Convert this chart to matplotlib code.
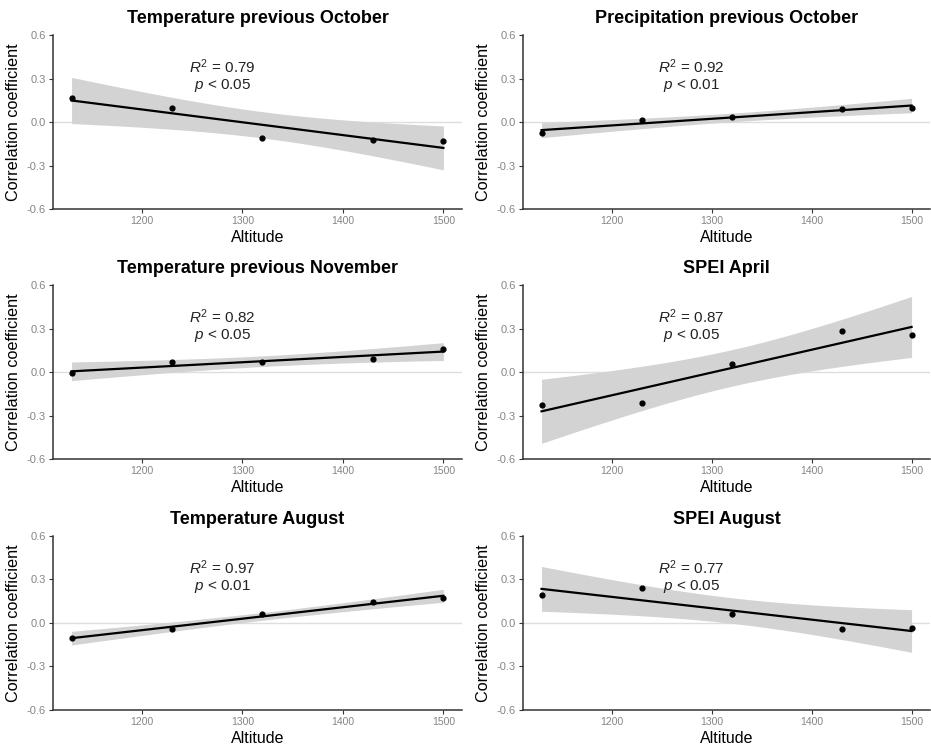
import matplotlib

matplotlib.use("Agg")
import matplotlib.pyplot as plt
import numpy as np

plt.rcParams["font.family"] = ["Liberation Sans", "DejaVu Sans"]
plt.rcParams["mathtext.fontset"] = "custom"
plt.rcParams["mathtext.rm"] = "Liberation Sans"
plt.rcParams["mathtext.it"] = "Liberation Sans:italic"

# site altitudes (m) shared by all panels
altitude = [1130, 1230, 1320, 1430, 1500]

titles = [
    "Temperature previous October",
    "Precipitation previous October",
    "Temperature previous November",
    "SPEI April",
    "Temperature August",
    "SPEI August",
]

# correlation coefficients per site
temp_prev_oct = [0.166, 0.100, -0.110, -0.127, -0.134]
prec_prev_oct = [-0.076, 0.012, 0.037, 0.092, 0.097]
temp_prev_nov = [-0.007, 0.069, 0.069, 0.088, 0.159]
spei_apr = [-0.226, -0.217, 0.058, 0.284, 0.256]
temp_aug = [-0.104, -0.042, 0.062, 0.148, 0.171]
spei_aug = [0.194, 0.240, 0.062, -0.042, -0.032]

r2_labels = ["0.79", "0.92", "0.82", "0.87", "0.97", "0.77"]
p_labels = ["0.05", "0.01", "0.05", "0.05", "0.01", "0.05"]

series = [temp_prev_oct, prec_prev_oct, temp_prev_nov, spei_apr, temp_aug, spei_aug]

T_CRIT = 3.182446  # two-sided 95 %, df = 3


def lm_band(x, y, xs):
    """Least-squares fit with a 95 % confidence band, like geom_smooth(method='lm')."""
    x = np.asarray(x, float)
    y = np.asarray(y, float)
    slope, intercept = np.polyfit(x, y, 1)
    resid = y - (slope * x + intercept)
    s = np.sqrt(np.sum(resid ** 2) / (len(x) - 2))
    sxx = np.sum((x - x.mean()) ** 2)
    fit = slope * xs + intercept
    half = T_CRIT * s * np.sqrt(1 / len(x) + (xs - x.mean()) ** 2 / sxx)
    return fit, fit - half, fit + half


fig = plt.figure(figsize=(9.31, 7.46), dpi=100)

col_left = [0.0569, 0.5618]
col_width = [0.4393, 0.4372]
row_bottom = [0.7198, 0.3847, 0.0483]
row_height = 0.2332

tick_color = "#858585"
spine_color = "#333333"

for i, (title, y) in enumerate(zip(titles, series)):
    row, col = divmod(i, 2)
    ax = fig.add_axes([col_left[col], row_bottom[row], col_width[col], row_height])

    xs = np.linspace(min(altitude), max(altitude), 100)
    fit, lo, hi = lm_band(altitude, y, xs)

    ax.axhline(0, color="#dedede", linewidth=1.0, zorder=0)
    ax.fill_between(xs, lo, hi, color="#d3d3d3", linewidth=0, zorder=1)
    ax.scatter(altitude, y, s=12, color="black", zorder=3)
    ax.plot(xs, fit, color="black", linewidth=1.6, zorder=4)

    ax.text(1280, 0.38, r"$R^2$ = " + r2_labels[i], ha="center", va="center", fontsize=11, color="#222222")
    ax.text(1280, 0.25, r"$p$ < " + p_labels[i], ha="center", va="center", fontsize=11, color="#222222")

    ax.set_xlim(1111.5, 1518.5)
    ax.set_ylim(-0.6, 0.6)
    ax.set_xticks([1200, 1300, 1400, 1500])
    ax.set_yticks([-0.6, -0.3, 0.0, 0.3, 0.6])
    ax.set_yticklabels(["-0.6", "-0.3", "0.0", "0.3", "0.6"])

    ax.set_title(title, fontsize=13, fontweight="bold", pad=9)
    ax.set_xlabel("Altitude", fontsize=11.5, labelpad=3)
    ax.set_ylabel("Correlation coefficient", fontsize=11.7, labelpad=4)

    for side in ["top", "right"]:
        ax.spines[side].set_visible(False)
    for side in ["left", "bottom"]:
        ax.spines[side].set_color(spine_color)
        ax.spines[side].set_linewidth(1.1)
    ax.tick_params(axis="both", labelcolor=tick_color, color=spine_color,
                   length=3, width=0.8, pad=2)
    ax.tick_params(axis="x", labelsize=7.5)
    ax.tick_params(axis="y", labelsize=8)

fig.savefig("out.png", dpi=100)
